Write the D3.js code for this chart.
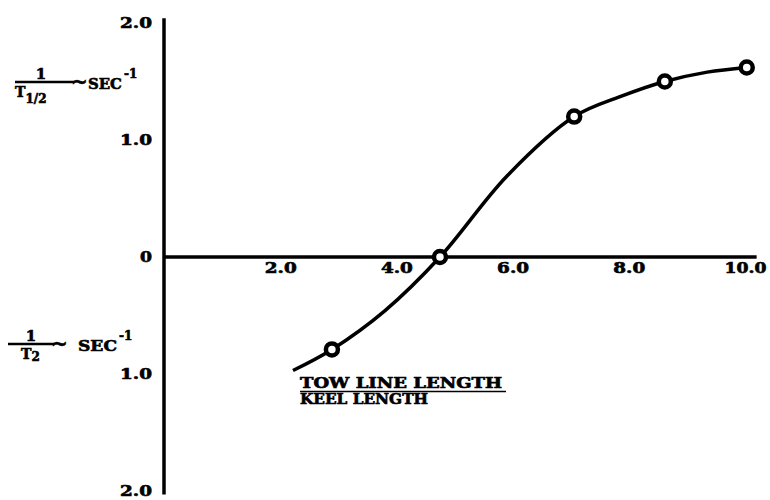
<!DOCTYPE html>
<html><head><meta charset="utf-8">
<script src="https://cdn.jsdelivr.net/npm/d3@7"></script>
<style>
html,body{margin:0;padding:0;background:#fff;}
text{font-family:"DejaVu Serif",serif;font-weight:bold;fill:#000;stroke:#000;stroke-width:0.6px;}
</style></head>
<body><svg id="c" width="770" height="500"></svg>
<script>
// Data
const xTickValues = [2, 4, 6, 8, 10];
const xTickLabels = ["2.0", "4.0", "6.0", "8.0", "10.0"];
const yTickValues = [2, 1, 0, -1, -2];
const yTickLabels = ["2.0", "1.0", "0", "1.0", "2.0"];
// measured points (x = tow line length / keel length, y = 1/T1/2 positive, 1/T2 negative)
const pointX = [2.89, 4.75, 7.06, 8.62, 10.03];
const pointY = [-0.79, 0.0, 1.20, 1.50, 1.62];
// faired curve
const curveX = [2.22, 2.89, 3.80, 4.75, 5.90, 7.06, 7.85, 8.62, 9.35, 10.03];
const curveY = [-0.97, -0.79, -0.46, 0.0, 0.69, 1.20, 1.37, 1.50, 1.58, 1.62];

const svg = d3.select("#c");
const x = d3.scaleLinear().domain([0, 10]).range([164, 745]);
const y = d3.scaleLinear().domain([-2, 2]).range([491, 23]);

// axis lines
svg.append("line").attr("x1", x(0)).attr("x2", x(0)).attr("y1", y(2.04)).attr("y2", y(-2.03))
  .attr("stroke", "#000").attr("stroke-width", 3.5);
svg.append("line").attr("x1", x(0)).attr("x2", x(10.2)).attr("y1", y(0)).attr("y2", y(0))
  .attr("stroke", "#000").attr("stroke-width", 3.5);

// x tick labels
const xa = svg.append("g").attr("transform", `translate(0,${y(0)})`)
  .call(d3.axisBottom(x).tickValues(xTickValues).tickSize(0).tickPadding(6)
    .tickFormat((d, i) => xTickLabels[i]));
xa.select(".domain").remove();
xa.selectAll("text").style("font-size", "14px")
  .style("font-family", "'DejaVu Serif',serif").style("font-weight", "bold")
  .attr("textLength", (d, i) => xTickLabels[i].length * 10 + 2).attr("lengthAdjust", "spacingAndGlyphs");

// y tick labels
const ya = svg.append("g").attr("transform", `translate(${x(0)},0)`)
  .call(d3.axisLeft(y).tickValues(yTickValues).tickSize(0).tickPadding(12)
    .tickFormat((d, i) => yTickLabels[i]));
ya.select(".domain").remove();
ya.selectAll("text").style("font-size", "14px")
  .style("font-family", "'DejaVu Serif',serif").style("font-weight", "bold")
  .attr("textLength", (d, i) => yTickLabels[i].length * 10 + 2).attr("lengthAdjust", "spacingAndGlyphs");

// curve
const pts = curveX.map((v, i) => [v, curveY[i]]);
svg.append("path").datum(pts)
  .attr("d", d3.line().x(d => x(d[0])).y(d => y(d[1])).curve(d3.curveCatmullRom.alpha(0.5)))
  .attr("fill", "none").attr("stroke", "#000").attr("stroke-width", 3.5);

// points
svg.selectAll("circle.pt").data(pointX.map((v, i) => [v, pointY[i]])).enter()
  .append("circle").attr("class", "pt")
  .attr("cx", d => x(d[0])).attr("cy", d => y(d[1])).attr("r", 6)
  .attr("fill", "#fff").attr("stroke", "#000").attr("stroke-width", 4.5);

// fraction labels: 1 / T_sub ~ SEC^-1
function fracLabel(g, o) {
  g.append("text").attr("x", o.oneX).attr("y", o.lineY - 3)
    .attr("text-anchor", "middle").style("font-size", "15px").text("1");
  g.append("line").attr("x1", o.x1).attr("x2", o.x2).attr("y1", o.lineY).attr("y2", o.lineY)
    .attr("stroke", "#000").attr("stroke-width", 2.5);
  const t = g.append("text").attr("x", o.tX).attr("y", o.lineY + 15).style("font-size", "14px");
  t.append("tspan").text("T");
  t.append("tspan").attr("dy", o.subDy).style("font-size", "12px").text(o.sub);
  g.append("text").attr("x", o.x2 - 3).attr("y", o.lineY + 7).style("font-size", "20px").text("~");
  g.append("text").attr("x", o.secX).attr("y", o.lineY + 7).style("font-size", "15px")
    .attr("textLength", o.secW).attr("lengthAdjust", "spacingAndGlyphs").text("SEC");
  g.append("text").attr("x", o.secX + o.secW + 2).attr("y", o.lineY - 4).style("font-size", "12px")
    .text("-1");
}
fracLabel(svg.append("g"), {oneX: 41, x1: 15, x2: 74, lineY: 82, tX: 15, sub: "1/2", subDy: 6, secX: 88, secW: 34});
fracLabel(svg.append("g"), {oneX: 31, x1: 8, x2: 54, lineY: 344, tX: 21, sub: "2", subDy: 2, secX: 78, secW: 39});

// x axis title
const tx = 300;
svg.append("text").attr("x", tx).attr("y", 388).style("font-size", "14px")
  .attr("textLength", 202).attr("lengthAdjust", "spacingAndGlyphs").text("TOW LINE LENGTH");
svg.append("line").attr("x1", tx).attr("x2", 506).attr("y1", 391.5).attr("y2", 391.5)
  .attr("stroke", "#000").attr("stroke-width", 1.5);
svg.append("text").attr("x", tx).attr("y", 404).style("font-size", "14px")
  .attr("textLength", 128).attr("lengthAdjust", "spacingAndGlyphs").text("KEEL LENGTH");
</script></body></html>
